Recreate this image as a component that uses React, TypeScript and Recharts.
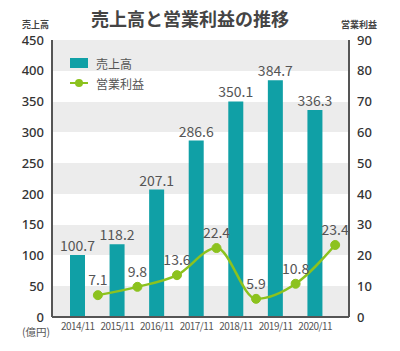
import React from 'react';
import {
  ComposedChart, Bar, Line, XAxis, YAxis, CartesianGrid, LabelList,
} from 'recharts';

const years = ['2014/11', '2015/11', '2016/11', '2017/11', '2018/11', '2019/11', '2020/11'];
const sales = [100.7, 118.2, 207.1, 286.6, 350.1, 384.7, 336.3];
const profit = [7.1, 9.8, 13.6, 22.4, 5.9, 10.8, 23.4];
const leftTicks = [0, 50, 100, 150, 200, 250, 300, 350, 400, 450];
const rightTicks = [0, 10, 20, 30, 40, 50, 60, 70, 80, 90];

const data = years.map((y, i) => ({ year: y, idx: i, sales: sales[i], profit: profit[i] }));

const BAR = '#10a0a6';
const LINE = '#8cc21e';
const FONT = '"Noto Sans CJK JP", "Noto Sans", sans-serif';
const NUMFONT = '"Noto Sans", "Noto Sans CJK JP", sans-serif';

const LegendBox = () => (
  <div style={{ position: 'absolute', left: 70, top: 53, fontFamily: FONT, fontSize: 12, color: '#555' }}>
    <div style={{ display: 'flex', alignItems: 'center', height: 20 }}>
      <span style={{ display: 'inline-block', width: 18, height: 10, background: BAR, marginRight: 8 }} />
      <span>売上高</span>
    </div>
    <div style={{ display: 'flex', alignItems: 'center', height: 20 }}>
      <svg width={18} height={10} style={{ marginRight: 8 }}>
        <line x1={0} y1={5} x2={18} y2={5} stroke={LINE} strokeWidth={2} />
        <circle cx={9} cy={5} r={4} fill={LINE} />
      </svg>
      <span>営業利益</span>
    </div>
  </div>
);

export default function App() {
  return (
    <div style={{ position: 'absolute', left: 0, top: 0, width: 400, height: 351, background: '#fff', fontFamily: FONT }}>
      <div style={{ position: 'absolute', left: 0, width: 380, top: 9, lineHeight: 1, textAlign: 'center', fontSize: 18, fontWeight: 700, color: '#444' }}>
        売上高と営業利益の推移
      </div>
      <div style={{ position: 'absolute', left: 22, top: 20, lineHeight: 1, fontSize: 9, fontWeight: 700, color: '#444' }}>売上高</div>
      <div style={{ position: 'absolute', left: 341, top: 20, lineHeight: 1, fontSize: 9, fontWeight: 700, color: '#444' }}>営業利益</div>
      <div style={{ position: 'absolute', left: 22, top: 327, lineHeight: 1, fontSize: 10.5, color: '#555' }}>(億円)</div>
      <ComposedChart width={400} height={351} data={data} margin={{ top: 40, right: 0, left: 0, bottom: 0 }}>
        <CartesianGrid vertical={false} stroke="transparent" horizontalFill={['#ececec', '#ffffff']} yAxisId="left" />
        <XAxis
          xAxisId="bars"
          dataKey="year"
          type="category"
          height={34}
          interval={0}
          padding={{ left: 6, right: 14 }}
          tickLine={false}
          tickSize={0}
          tickMargin={6}
          axisLine={{ stroke: '#555', strokeWidth: 2 }}
          tick={{ fontSize: 10, fill: '#555', fontFamily: FONT, letterSpacing: -0.5 }}
        />
        <XAxis xAxisId="line" dataKey="idx" type="number" domain={[-1.16, 6.35]} allowDataOverflow hide />
        <YAxis
          yAxisId="left"
          orientation="left"
          width={52}
          domain={[0, 450]}
          ticks={leftTicks}
          interval={0}
          tickLine={false}
          tickSize={0}
          tickMargin={8}
          axisLine={{ stroke: '#555', strokeWidth: 2 }}
          tick={{ fontSize: 13, fill: '#333', fontFamily: NUMFONT, fontWeight: 500 }}
        />
        <YAxis
          yAxisId="right"
          orientation="right"
          width={51}
          domain={[0, 90]}
          ticks={rightTicks}
          interval={0}
          tickLine={false}
          tickSize={0}
          tickMargin={8}
          axisLine={{ stroke: '#555', strokeWidth: 2 }}
          tick={{ fontSize: 13, fill: '#333', fontFamily: NUMFONT, fontWeight: 500, textAnchor: 'start' }}
        />
        <Bar xAxisId="bars" yAxisId="left" dataKey="sales" fill={BAR} barSize={15} isAnimationActive={false}>
          <LabelList dataKey="sales" position="top" offset={4} style={{ fontSize: 14, fill: '#555', fontFamily: FONT }} />
        </Bar>
        <Line
          xAxisId="line"
          yAxisId="right"
          dataKey="profit"
          type="monotone"
          stroke={LINE}
          strokeWidth={2.5}
          dot={{ r: 4.5, fill: LINE, stroke: LINE, strokeWidth: 1 }}
          isAnimationActive={false}
        >
          <LabelList dataKey="profit" position="top" offset={10} style={{ fontSize: 14, fill: '#555', fontFamily: FONT }} />
        </Line>
      </ComposedChart>
      <LegendBox />
    </div>
  );
}
